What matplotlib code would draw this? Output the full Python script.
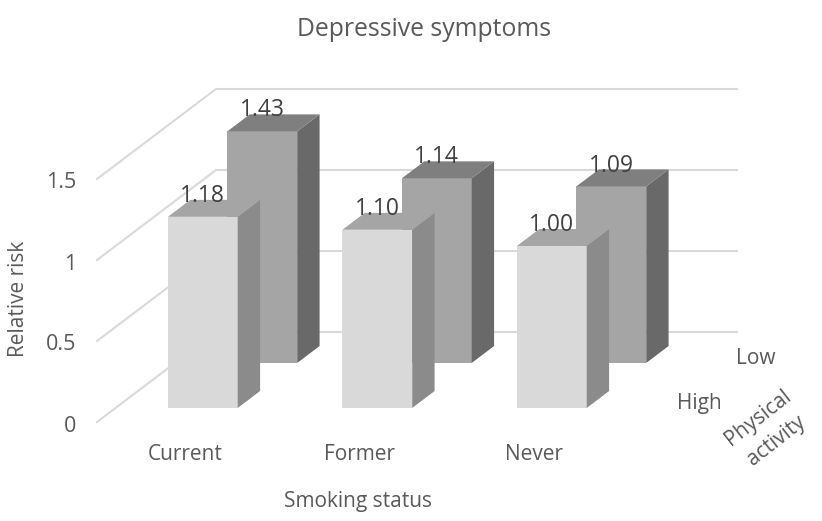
"""Depressive symptoms: relative risk by smoking status and physical activity, drawn as oblique 3D bars."""

import matplotlib

matplotlib.use("Agg")
import matplotlib.pyplot as plt
from matplotlib.patches import Polygon

plt.rcParams["font.family"] = ["Open Sans", "DejaVu Sans"]

smoking = ["Current", "Former", "Never"]
activity = ["High", "Low"]
high_risk = [1.18, 1.10, 1.00]
low_risk = [1.43, 1.14, 1.09]
grid_values = [0, 0.5, 1, 1.5]
grid_labels = ["0", "0.5", "1", "1.5"]

W, H = 822, 521
X_UNIT = 174.5  # pixels per category
Y_UNIT = 162.0  # pixels per unit of relative risk
LEFT, FLOOR = 97, 422  # front-left corner of the floor, pixels
DX, DY = 119 / X_UNIT, 90 / Y_UNIT  # full depth of the box, in data units

GRID = "#D9D9D9"
TEXT = "#595959"
LABEL = "#404040"


def proj(x, value, depth):
    """Oblique projection of (category position, value, depth 0..1) to data coords."""
    return x + DX * depth, value + DY * depth


def px(x, y):
    """Pixel position (origin top-left) to figure fraction, for text placement."""
    return x / W, 1 - y / H


def draw_bar(ax, i, value, d0, d1, colors):
    x0, x1 = i + 0.3, i + 0.7
    front, side, top = colors
    ax.add_patch(Polygon([proj(x0, 0, d0), proj(x1, 0, d0), proj(x1, value, d0), proj(x0, value, d0)],
                         fc=front, ec="none", zorder=3))
    ax.add_patch(Polygon([proj(x1, 0, d0), proj(x1, 0, d1), proj(x1, value, d1), proj(x1, value, d0)],
                         fc=side, ec="none", zorder=3))
    ax.add_patch(Polygon([proj(x0, value, d0), proj(x1, value, d0), proj(x1, value, d1), proj(x0, value, d1)],
                         fc=top, ec="none", zorder=3))
    ax.annotate(f"{value:.2f}", proj((x0 + x1) / 2, value, d0), xytext=(0, 15), textcoords="offset points",
                ha="center", va="center", fontsize=16.5, color=LABEL, zorder=5)


fig = plt.figure(figsize=(W / 100, H / 100), dpi=100)
ax = fig.add_axes([0, 0, 1, 1])
ax.set_xlim(-LEFT / X_UNIT, (W - LEFT) / X_UNIT)
ax.set_ylim(-(H - FLOOR) / Y_UNIT, FLOOR / Y_UNIT)
ax.axis("off")

# side wall and back wall gridlines
for v in grid_values:
    xs, ys = zip(proj(0, v, 0), proj(0, v, 1), proj(2.985, v, 1))
    ax.plot(xs, ys, color=GRID, lw=1.5, zorder=1, solid_joinstyle="miter")

# back row first so the front row covers it
for i, v in enumerate(low_risk):
    draw_bar(ax, i, v, 0.656, 0.844, ("#A5A5A5", "#696969", "#7F7F7F"))
for i, v in enumerate(high_risk):
    draw_bar(ax, i, v, 0.156, 0.344, ("#D9D9D9", "#8B8B8B", "#A5A5A5"))

fig.text(*px(424, 30), "Depressive symptoms", ha="center", va="center", fontsize=17.8, color=TEXT)
fig.text(*px(19, 299), "Relative risk", ha="center", va="center", rotation=90, fontsize=15, color=TEXT)
fig.text(*px(358, 501), "Smoking status", ha="center", va="center", fontsize=15, color=TEXT)

for v, lab in zip(grid_values, grid_labels):
    fig.text(*px(76, FLOOR + 4 - v * Y_UNIT), lab, ha="right", va="center", fontsize=15.5, color=TEXT)
for i, lab in enumerate(smoking):
    fig.text(*px(185 + i * X_UNIT, 454), lab, ha="center", va="center", fontsize=15, color=TEXT)

fig.text(*px(699, 403), activity[0], ha="center", va="center", fontsize=15, color=TEXT)
fig.text(*px(756, 358), activity[1], ha="center", va="center", fontsize=15, color=TEXT)
fig.text(*px(767, 429), "Physical\nactivity", ha="center", va="center", rotation=38, linespacing=1.5,
         multialignment="center", fontsize=15, color=TEXT)

fig.savefig("out.png", dpi=100)
